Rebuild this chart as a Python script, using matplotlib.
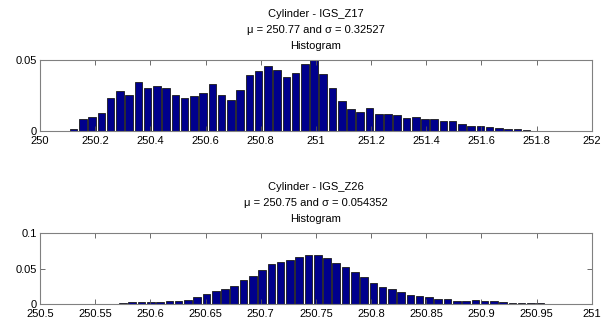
import numpy as np
import matplotlib
matplotlib.use('Agg')
import matplotlib.pyplot as plt

# Histogram 1: Cylinder - IGS_Z17 (50 bins, relative frequency)
z17_first = 250.122
z17_last  = 251.764
z17_freq  = [0.0016, 0.0086, 0.0100, 0.0130, 0.0230, 0.0280, 0.0255, 0.0346, 0.0306, 0.0315,
             0.0306, 0.0255, 0.0236, 0.0248, 0.0269, 0.0332, 0.0257, 0.0220, 0.0290, 0.0397,
             0.0420, 0.0458, 0.0432, 0.0383, 0.0411, 0.0474, 0.0498, 0.0404, 0.0300, 0.0215,
             0.0154, 0.0136, 0.0161, 0.0117, 0.0121, 0.0110, 0.0093, 0.0098, 0.0084, 0.0084,
             0.0068, 0.0072, 0.0049, 0.0035, 0.0035, 0.0028, 0.0019, 0.0014, 0.0012, 0.0007]
z17_title = 'Cylinder - IGS_Z17\n\u03bc = 250.77 and \u03c3 = 0.32527\nHistogram'
z17_xticks = [250, 250.2, 250.4, 250.6, 250.8, 251, 251.2, 251.4, 251.6, 251.8, 252]
z17_xlabels = ['250', '250.2', '250.4', '250.6', '250.8', '251', '251.2', '251.4', '251.6', '251.8', '252']
z17_yticks = [0, 0.05]
z17_ylabels = ['0', '0.05']

# Histogram 2: Cylinder - IGS_Z26
z26_first = 250.5416
z26_last  = 250.9533
z26_freq  = [0.0005, 0.0005, 0.0005, 0.0005, 0.0010, 0.0024, 0.0024, 0.0024, 0.0033, 0.0043,
             0.0043, 0.0062, 0.0095, 0.0138, 0.0180, 0.0214, 0.0260, 0.0335, 0.0402, 0.0486,
             0.0565, 0.0593, 0.0620, 0.0667, 0.0685, 0.0697, 0.0648, 0.0578, 0.0523, 0.0454,
             0.0384, 0.0296, 0.0245, 0.0213, 0.0172, 0.0134, 0.0111, 0.0093, 0.0074, 0.0069,
             0.0046, 0.0046, 0.0056, 0.0037, 0.0037, 0.0023, 0.0009, 0.0009, 0.0009, 0.0009]
z26_title = 'Cylinder - IGS_Z26\n\u03bc = 250.75 and \u03c3 = 0.054352\nHistogram'
z26_xticks = [250.5, 250.55, 250.6, 250.65, 250.7, 250.75, 250.8, 250.85, 250.9, 250.95, 251]
z26_xlabels = ['250.5', '250.55', '250.6', '250.65', '250.7', '250.75', '250.8', '250.85', '250.9', '250.95', '251']
z26_yticks = [0, 0.05, 0.1]
z26_ylabels = ['0', '0.05', '0.1']

plt.rcParams['font.family'] = ['Liberation Sans', 'DejaVu Sans']
fs = 8

fig = plt.figure(figsize=(6.01, 3.25), dpi=100)

def draw(rect, first, last, freq, title, xticks, xlabels, yticks, ylabels):
    ax = fig.add_axes(rect)
    centers = np.linspace(first, last, len(freq))
    step = centers[1] - centers[0]
    ax.bar(centers, freq, width=step * 0.82, color='#00008c',
           edgecolor='#1a1a1a', linewidth=0.6)
    ax.set_xlim(xticks[0], xticks[-1])
    ax.set_ylim(yticks[0], yticks[-1])
    ax.set_xticks(xticks)
    ax.set_xticklabels(xlabels)
    ax.set_yticks(yticks)
    ax.set_yticklabels(ylabels)
    ax.tick_params(direction='in', length=3.5, width=0.6, color='#555555',
                   top=True, right=True, labelsize=fs)
    ax.tick_params(axis='x', pad=3.5)
    ax.tick_params(axis='y', pad=2.5)
    for sp in ax.spines.values():
        sp.set_color('#808080')
        sp.set_linewidth(0.8)
    ax.set_title(title, fontsize=fs, linespacing=1.75, pad=8)
    return ax

draw([0.0666, 0.597, 0.918, 0.218], z17_first, z17_last, z17_freq, z17_title,
     z17_xticks, z17_xlabels, z17_yticks, z17_ylabels)
draw([0.0666, 0.0646, 0.918, 0.218], z26_first, z26_last, z26_freq, z26_title,
     z26_xticks, z26_xlabels, z26_yticks, z26_ylabels)

fig.savefig('out.png', dpi=100)
